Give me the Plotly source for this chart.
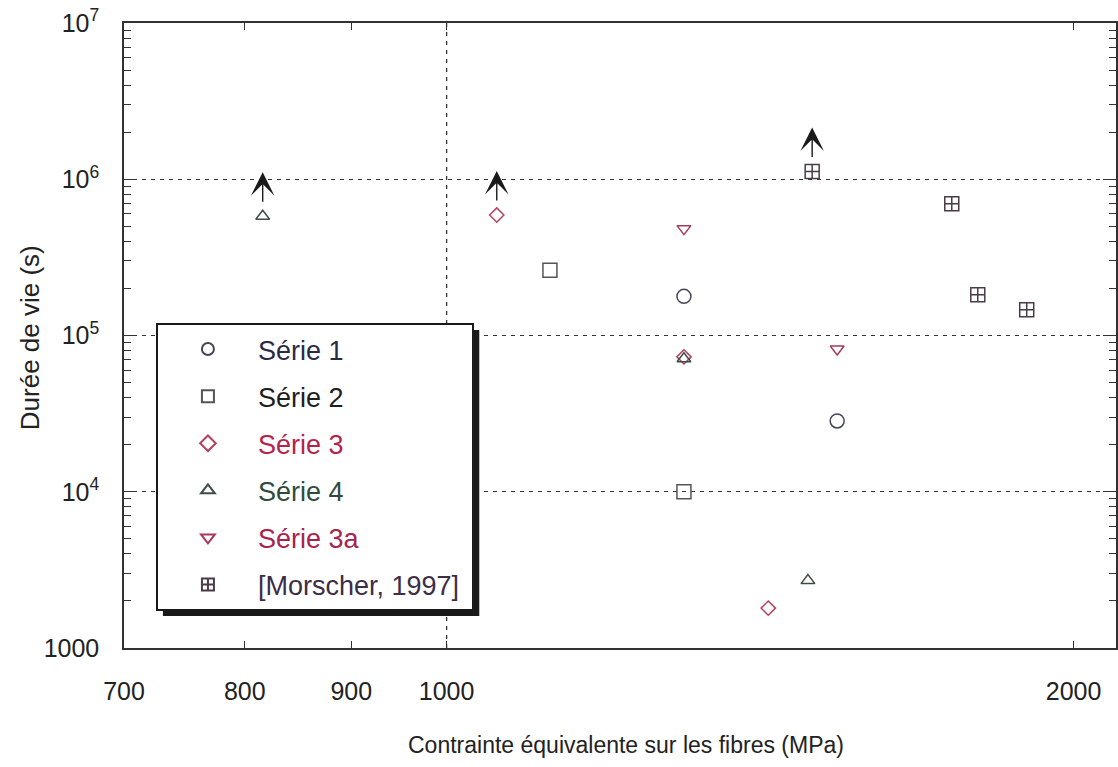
import math
import plotly.graph_objects as go

# Contrainte équivalente sur les fibres (MPa) et durée de vie (s), par série
serie1_x = [1300, 1540]
serie1_y = [1.78e5, 2.84e4]

serie2_x = [1121, 1300]
serie2_y = [2.62e5, 1.0e4]

serie3_x = [1057, 1300, 1427]
serie3_y = [5.9e5, 7.3e4, 1.80e3]

serie4_x = [816, 1300, 1491]
serie4_y = [5.8e5, 7.1e4, 2.70e3]

serie3a_x = [1300, 1540]
serie3a_y = [4.83e5, 8.2e4]

morscher_x = [1498, 1748, 1799, 1899]
morscher_y = [1.12e6, 6.98e5, 1.82e5, 1.46e5]

# essais arrêtés sans rupture (flèche vers le haut)
runout_x = [serie4_x[0], serie3_x[0], morscher_x[0]]
runout_y = [serie4_y[0], serie3_y[0], morscher_y[0]]

x_ticks = [700, 800, 900, 1000, 2000]
y_ticks = [1e3, 1e4, 1e5, 1e6, 1e7]
y_ticktext = ["1000", "10<sup>4</sup>", "10<sup>5</sup>", "10<sup>6</sup>", "10<sup>7</sup>"]
y_minor = [m * 10 ** e for e in range(3, 7) for m in range(2, 10)]

W, H = 1118, 767
ML, MR, MT, MB = 124, 0, 23, 119
PW, PH = W - ML - MR, H - MT - MB
FONT = "Liberation Sans, Arial, Helvetica, sans-serif"


def px_x(p):
    return (p - ML) / PW


def px_y(p):
    return (H - MB - p) / PH


series = [
    ("Série 1", serie1_x, serie1_y, "circle-open", 14, "#45455a", "#2b2a45"),
    ("Série 2", serie2_x, serie2_y, "square-open", 14, "#555555", "#1e1e1e"),
    ("Série 3", serie3_x, serie3_y, "diamond-open", 11, "#b3435f", "#b5234b"),
    ("Série 4", serie4_x, serie4_y, "triangle-up-open", 12, "#3e4d45", "#2f4b3e"),
    ("Série 3a", serie3a_x, serie3a_y, "triangle-down-open", 12, "#a83a5c", "#a8234e"),
    ("[Morscher, 1997]&nbsp;", morscher_x, morscher_y, "square-cross-open", 14, "#4b3b48", "#3d2d45"),
]

fig = go.Figure()
for i, (name, xs, ys, sym, size, mcol, tcol) in enumerate(series):
    fig.add_trace(go.Scatter(
        x=xs, y=ys, mode="markers",
        name=f'<span style="color:{tcol}">{name}</span>',
        legendgroup=f"g{i}",
        marker=dict(symbol=sym, size=size, color=mcol, line=dict(width=1.5, color=mcol)),
    ))

# flèches des essais non rompus
for xv, yv in zip(runout_x, runout_y):
    fig.add_annotation(
        x=math.log10(xv), y=math.log10(yv), xref="x", yref="y",
        text="", showarrow=True, ax=0, ay=31, yshift=44,
        arrowhead=3, arrowsize=2.8, arrowwidth=1.4, arrowcolor="#1a1a1a",
    )

# ligne verticale pointillée à 1000 MPa
fig.add_shape(type="line", xref="x", yref="paper", x0=1000, x1=1000, y0=0, y1=1,
              line=dict(color="#333333", width=1.3, dash="4px,5px"), layer="below")

# ombre du cadre de légende
fig.add_shape(type="rect", xref="paper", yref="paper",
              x0=px_x(163), x1=px_x(480), y0=px_y(616), y1=px_y(330),
              fillcolor="#1a1a1a", line=dict(width=0), layer="above")

fig.add_annotation(text="Contrainte équivalente sur les fibres (MPa)",
                   xref="paper", yref="paper", x=px_x(627), y=px_y(745),
                   showarrow=False, xanchor="center", yanchor="middle",
                   font=dict(size=23, color="#222", family=FONT))
fig.add_annotation(text="Durée de vie (s)", textangle=-90,
                   xref="paper", yref="paper", x=px_x(30), y=px_y(338),
                   showarrow=False, xanchor="center", yanchor="middle",
                   font=dict(size=26, color="#222", family=FONT))

axis_common = dict(showline=True, linecolor="#333333", linewidth=1.5, mirror="ticks",
                   ticks="inside", tickcolor="#333333", tickwidth=1.2, zeroline=False)

fig.update_xaxes(type="log", range=[math.log10(700), math.log10(2096)],
                 tickmode="array", tickvals=x_ticks, ticktext=[str(v) for v in x_ticks],
                 ticklen=7, showgrid=False, ticklabelstandoff=20,
                 tickfont=dict(size=25, color="#222", family=FONT), **axis_common)
fig.update_yaxes(type="log", range=[3, 7],
                 tickmode="array", tickvals=y_ticks, ticktext=y_ticktext,
                 ticklen=13, showgrid=True, gridcolor="#333333", gridwidth=1.3, griddash="4px,5px",
                 minor=dict(tickmode="array", tickvals=y_minor, ticks="inside", ticklen=7,
                            tickcolor="#333333", tickwidth=1.2, showgrid=False),
                 ticklabelstandoff=18,
                 tickfont=dict(size=25, color="#222", family=FONT), **axis_common)

fig.update_layout(
    width=W, height=H,
    margin=dict(l=ML, r=MR, t=MT, b=MB),
    paper_bgcolor="white", plot_bgcolor="white",
    font=dict(family=FONT, size=24, color="#222"),
    legend=dict(x=px_x(156), y=px_y(323), xanchor="left", yanchor="top",
                bgcolor="white", bordercolor="#1a1a1a", borderwidth=2,
                font=dict(size=27, family=FONT), tracegroupgap=9,
                itemwidth=90, itemsizing="constant"),
    showlegend=True,
)

fig.write_html("out.html")
